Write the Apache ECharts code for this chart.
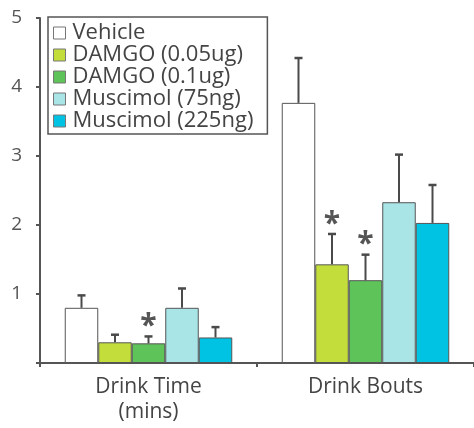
<!DOCTYPE html>
<html>
<head>
<meta charset="utf-8">
<script src="https://cdn.jsdelivr.net/npm/echarts@6/dist/echarts.min.js"></script>
<style>
html, body { margin: 0; padding: 0; background: #fff; }
#chart { width: 474px; height: 428px; }
</style>
</head>
<body>
<div id="chart"></div>
<script>
// measures on the x axis
var categories = ['Drink Time\n(mins)', 'Drink Bouts'];
var seriesNames = ['Vehicle', 'DAMGO (0.05ug)', 'DAMGO (0.1ug)', 'Muscimol (75ng)', 'Muscimol (225ng)'];
var seriesColors = ['#ffffff', '#c3de3b', '#5ec45a', '#a9e4e7', '#00c3e3'];

// means
var vehicle = [0.80, 3.77];
var damgoLow = [0.30, 1.43];
var damgoHigh = [0.285, 1.20];
var muscLow = [0.80, 2.33];
var muscHigh = [0.37, 2.03];

// SEM (upward only)
var vehicleErr = [0.18, 0.65];
var damgoLowErr = [0.11, 0.44];
var damgoHighErr = [0.10, 0.37];
var muscLowErr = [0.28, 0.69];
var muscHighErr = [0.15, 0.55];

// significance stars
var vehicleSig = [false, false];
var damgoLowSig = [false, true];
var damgoHighSig = [true, true];
var muscLowSig = [false, false];
var muscHighSig = [false, false];

var values = [vehicle, damgoLow, damgoHigh, muscLow, muscHigh];
var errors = [vehicleErr, damgoLowErr, damgoHighErr, muscLowErr, muscHighErr];
var sigs = [vehicleSig, damgoLowSig, damgoHighSig, muscLowSig, muscHighSig];

var barW = 33.5;
var font = '"Open Sans", "Noto Sans", sans-serif';

var dom = document.getElementById('chart');
var myChart = echarts.init(dom);

var series = [];
for (var i = 0; i < values.length; i++) {
    series.push({
        name: seriesNames[i],
        type: 'bar',
        data: values[i],
        barWidth: barW,
        barGap: '0%',
        itemStyle: {
            color: seriesColors[i],
            borderColor: '#555',
            borderWidth: 1
        },
        animation: false,
        z: 2
    });
}

// error bars + stars
for (var i = 0; i < values.length; i++) {
    (function (idx) {
        var d = [];
        for (var k = 0; k < categories.length; k++) {
            d.push([k, values[idx][k], errors[idx][k], sigs[idx][k] ? 1 : 0]);
        }
        series.push({
            type: 'custom',
            data: d,
            animation: false,
            silent: true,
            z: 3,
            renderItem: function (params, api) {
                var off = (idx - 2) * barW;
                var base = api.coord([api.value(0), api.value(1)]);
                var top = api.coord([api.value(0), api.value(1) + api.value(2)]);
                var x = base[0] + off;
                var kids = [
                    {type: 'line', shape: {x1: x, y1: base[1], x2: x, y2: top[1]},
                        style: {stroke: '#4a4a4a', lineWidth: 2}},
                    {type: 'line', shape: {x1: x - 4, y1: top[1], x2: x + 4, y2: top[1]},
                        style: {stroke: '#4a4a4a', lineWidth: 2.5}}
                ];
                if (api.value(3)) {
                    kids.push({type: 'text', x: x, y: top[1] + 5,
                        style: {text: '*', fill: '#555', font: 'bold 30px ' + font,
                            align: 'center', verticalAlign: 'bottom'}});
                }
                return {type: 'group', children: kids};
            }
        });
    })(i);
}

var option = {
    backgroundColor: '#fff',
    animation: false,
    grid: {left: 40, right: -2, top: 18, bottom: 65, containLabel: false},
    legend: {
        orient: 'vertical',
        left: 48,
        top: 17,
        data: seriesNames,
        icon: 'rect',
        itemWidth: 12,
        itemHeight: 12,
        itemGap: 0,
        padding: [5, 14, 2, 5],
        borderColor: '#555',
        borderWidth: 1.5,
        itemStyle: {borderColor: '#777', borderWidth: 1},
        textStyle: {fontFamily: font, fontSize: 22, lineHeight: 18, color: '#444', padding: [0, 0, 0, 2]}
    },
    xAxis: {
        type: 'category',
        data: categories,
        axisLine: {lineStyle: {color: '#555', width: 2}},
        axisTick: {show: true, length: 4, lineStyle: {color: '#555', width: 2}},
        axisLabel: {fontFamily: font, fontSize: 21, color: '#444', margin: 12, lineHeight: 25}
    },
    yAxis: {
        type: 'value',
        min: 0,
        max: 5,
        interval: 1,
        splitLine: {show: false},
        axisLine: {show: true, lineStyle: {color: '#555', width: 2}},
        axisTick: {show: true, length: 4, lineStyle: {color: '#555', width: 2}},
        axisLabel: {fontFamily: font, fontSize: 19, color: '#555', margin: 18,
            formatter: function (v) { return v === 0 ? '' : v; }}
    },
    series: series
};

if (option && typeof option === 'object') {
    myChart.setOption(option, true);
}
</script>
</body>
</html>
